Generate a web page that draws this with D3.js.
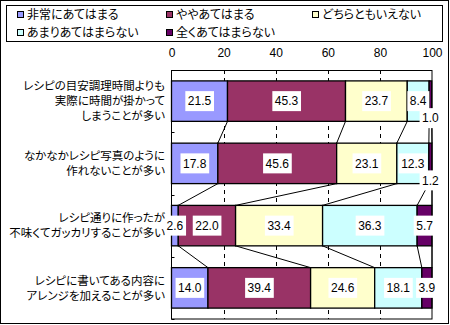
<!DOCTYPE html>
<html><head><meta charset="utf-8">
<script src="https://cdn.jsdelivr.net/npm/d3@7"></script>
<style>
body{margin:0;background:#fff;}
text{font-family:"Noto Sans CJK JP",sans-serif;font-feature-settings:"palt";}
.num{font-family:"Liberation Sans",Arial,sans-serif;font-feature-settings:normal;}
</style></head>
<body><svg id="c" width="450" height="325"></svg>
<script>
const categories = [
  "レシピの目安調理時間よりも\n実際に時間が掛かって\nしまうことが多い",
  "なかなかレシピ写真のように\n作れないことが多い",
  "レシピ通りに作ったが\n不味くてガッカリすることが多い",
  "レシピに書いてある内容に\nアレンジを加えることが多い"
];
const seriesNames = ["非常にあてはまる","ややあてはまる","どちらともいえない","あまりあてはまらない","全くあてはまらない"];
const seriesColors = ["#9999FF","#993366","#FFFFCC","#CCFFFF","#660066"];
const s1 = [21.5,17.8,2.6,14.0];
const s2 = [45.3,45.6,22.0,39.4];
const s3 = [23.7,23.1,33.4,24.6];
const s4 = [8.4,12.3,36.3,18.1];
const s5 = [1.0,1.2,5.7,3.9];
const tickValues = [0,20,40,60,80,100];

const series = [s1,s2,s3,s4,s5];
const svg = d3.select("#c");
svg.append("rect").attr("x",0.5).attr("y",0.5).attr("width",448).attr("height",323)
  .attr("fill","#fff").attr("stroke","#000");

// legend
svg.append("rect").attr("x",6.5).attr("y",5.5).attr("width",436).attr("height",36)
  .attr("fill","#fff").attr("stroke","#000");
const legPos = [[17,15],[166,15],[312,15],[17,33],[166,33]];
seriesNames.forEach((n,i)=>{
  const g = svg.append("g").attr("transform",`translate(${legPos[i][0]},${legPos[i][1]})`);
  g.append("rect").attr("x",0.5).attr("y",-3.5).attr("width",6).attr("height",6)
    .attr("fill",seriesColors[i]).attr("stroke","#000");
  g.append("text").attr("x",10).attr("y",0).attr("dy","0.36em").attr("font-size",12).text(n);
});

const x = d3.scaleLinear().domain([0,100]).range([171.5,432]);
const y = d3.scaleBand().domain(categories).range([70,319]).paddingInner(0.35).paddingOuter(0.175);

// plot bg
svg.append("rect").attr("x",x(0)).attr("y",70).attr("width",x(100)-x(0)).attr("height",249).attr("fill","#fff");
// gridlines
svg.append("g").selectAll("line").data([20,40,60,80]).join("line")
  .attr("x1",d=>Math.round(x(d))+0.5).attr("x2",d=>Math.round(x(d))+0.5)
  .attr("y1",70).attr("y2",319).attr("stroke","#000").attr("stroke-dasharray","4,4");

// top axis
const ax = svg.append("g").attr("transform","translate(0,70)")
  .call(d3.axisTop(x).tickValues(tickValues).tickSize(0).tickPadding(13));
ax.select(".domain").remove();
ax.selectAll("text").attr("class","num").attr("font-size",12).attr("fill","#000");

// stacked
const rows = categories.map((c,i)=>{
  let acc=0; const segs=[];
  series.forEach((s,j)=>{segs.push({cat:c,j,v:s[i],x0:acc,x1:acc+s[i]}); acc+=s[i];});
  return segs;
});

// series lines
const sl = svg.append("g");
for(let i=0;i<categories.length-1;i++){
  for(let j=0;j<series.length;j++){
    sl.append("line")
      .attr("x1",x(rows[i][j].x1)).attr("y1",y(categories[i])+y.bandwidth())
      .attr("x2",x(rows[i+1][j].x1)).attr("y2",y(categories[i+1]))
      .attr("stroke","#000").attr("stroke-width",1);
  }
}

const bars = svg.append("g");
rows.forEach(r=>{
  bars.selectAll(null).data(r).join("rect")
    .attr("x",d=>x(d.x0)).attr("y",d=>y(d.cat))
    .attr("width",d=>x(d.x1)-x(d.x0)).attr("height",y.bandwidth())
    .attr("fill",d=>seriesColors[d.j]).attr("stroke","#000").attr("stroke-width",1.3);
});

// plot border and left axis ticks
svg.append("rect").attr("x",x(0)).attr("y",70.5).attr("width",x(100)-x(0)).attr("height",248.5)
  .attr("fill","none").attr("stroke","#000");
const ly = svg.append("g");
d3.range(categories.length+1).forEach(k=>{
  const yy = 70 + k*y.step();
  ly.append("line").attr("x1",x(0)).attr("x2",x(0)+3).attr("y1",Math.round(yy)+0.5).attr("y2",Math.round(yy)+0.5).attr("stroke","#000");
});

// data labels
const lab = svg.append("g");
rows.forEach(r=>{
  r.forEach(d=>{
    const cx = x((d.x0+d.x1)/2);
    let cy = y(d.cat)+y.bandwidth()/2;
    if(d.v<2) cy += 17;
    const g = lab.append("g");
    const t = g.append("text").attr("class","num").attr("x",cx).attr("y",cy).attr("dy","0.36em")
      .attr("text-anchor","middle").attr("font-size",12).text(d.v.toFixed(1));
    const b = t.node().getBBox();
    g.insert("rect","text").attr("x",b.x-2.5).attr("y",cy-10).attr("width",b.width+5).attr("height",20).attr("fill","#fff");
  });
});

// category labels
categories.forEach(c=>{
  const lines = c.split("\n");
  const cy = y(c)+y.bandwidth()/2;
  const t = svg.append("text").attr("text-anchor","end").attr("font-size",11.5);
  lines.forEach((l,k)=>{
    t.append("tspan").attr("x",165).attr("y",cy+(k-(lines.length-1)/2)*15).attr("dy","0.36em").text(l);
  });
});
</script></body></html>
